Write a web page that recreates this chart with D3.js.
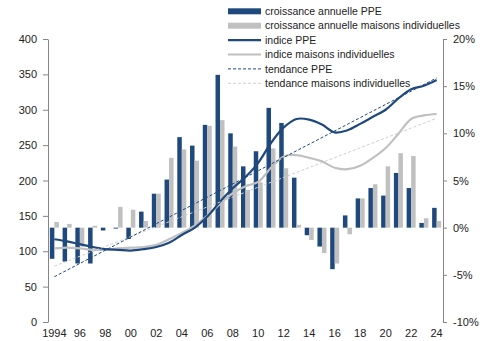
<!DOCTYPE html>
<html>
<head>
<meta charset="utf-8">
<script src="https://cdn.jsdelivr.net/npm/d3@7"></script>
<style>
  body { margin: 0; background: #fff; }
  svg text { font-family: "Liberation Sans", Arial, sans-serif; fill: #222; }
</style>
</head>
<body>
<div id="chart"></div>
<script>

var years = [1994, 1995, 1996, 1997, 1998, 1999, 2000, 2001, 2002, 2003, 2004, 2005, 2006, 2007, 2008,
             2009, 2010, 2011, 2012, 2013, 2014, 2015, 2016, 2017, 2018, 2019, 2020, 2021, 2022, 2023, 2024];

// croissance annuelle, en %
var croissPPE = [-3.3, -3.6, -3.8, -3.8, -0.3, -0.1, -1.2, 1.7, 3.6, 5.1, 9.6, 8.7, 10.9, 16.2, 10.0,
                 6.5, 8.1, 12.7, 11.1, 5.3, -0.8, -2.0, -4.4, 1.3, 3.1, 4.2, 3.4, 5.8, 4.2, 0.5, 2.1];
var croissMaisons = [0.6, 0.4, -2.0, 0.2, 0, 2.2, 1.9, 0.7, 3.6, 7.4, 8.3, 7.1, 10.8, 11.4, 8.6,
                     4.0, 4.8, 8.4, 6.3, 0.3, -1.3, -2.7, -3.8, -0.7, 3.1, 4.6, 6.5, 7.9, 7.6, 1.0, 0.7];

// indices
var indicePPE = [117, 114, 110, 106, 103, 102, 101, 103, 106, 112, 123, 133, 149, 170, 189,
                 205, 225, 253, 275, 287, 286, 279, 268, 271, 280, 290, 300, 316, 329, 334, 342];
var indiceMaisons = [104, 105, 104, 102, 102, 104, 105, 106, 109, 117, 126, 136, 150, 167, 182,
                     192, 198, 218, 234, 236, 232, 227, 218, 216, 221, 232, 246, 266, 287, 292, 294];

// tendances (debut 1994, fin 2024)
var tendancePPE = [64, 345];
var tendanceMaisons = [79, 288];

var yearLabels = ["1994", "96", "98", "00", "02", "04", "06", "08", "10", "12", "14", "16", "18", "20", "22", "24"];
var leftTicks = [0, 50, 100, 150, 200, 250, 300, 350, 400];
var rightTicks = [-10, -5, 0, 5, 10, 15, 20];

var legendLabels = ["croissance annuelle PPE", "croissance annuelle maisons individuelles", "indice PPE",
                    "indice maisons individuelles", "tendance PPE", "tendance maisons individuelles"];

var blue = "#1f497d", grey = "#c0c0c0", lightGrey = "#cfcfcf";

var svg = d3.select("#chart").append("svg")
    .attr("width", 491)
    .attr("height", 341);

var x = d3.scaleBand()
    .domain(years)
    .range([48, 443])
    .padding(0);

var xSub = d3.scaleBand()
    .domain(["ppe", "maisons"])
    .range([0, x.bandwidth()])
    .paddingInner(0)
    .paddingOuter(0.415);

var yL = d3.scaleLinear().domain([0, 400]).range([322, 39]);
var yR = d3.scaleLinear().domain([-10, 20]).range([322, 39]);

function cx(yr) { return x(yr) + x.bandwidth() / 2; }

// barres de croissance
var rows = years.map(function(yr, i) {
    return {year: yr, ppe: croissPPE[i], maisons: croissMaisons[i]};
});

var bars = svg.append("g");
bars.selectAll("g")
    .data(rows)
    .enter().append("g")
    .attr("transform", function(d) { return "translate(" + x(d.year) + ",0)"; })
    .selectAll("rect")
    .data(function(d) { return [{k: "ppe", v: d.ppe}, {k: "maisons", v: d.maisons}]; })
    .enter().append("rect")
    .attr("x", function(d) { return xSub(d.k); })
    .attr("width", xSub.bandwidth())
    .attr("y", function(d) { return Math.min(yR(d.v), yR(0)); })
    .attr("height", function(d) { return Math.abs(yR(d.v) - yR(0)); })
    .attr("fill", function(d) { return d.k == "ppe" ? blue : grey; });

// axes
var axisL = svg.append("g")
    .attr("transform", "translate(48,0)")
    .call(d3.axisLeft(yL).tickValues(leftTicks).tickSize(5).tickPadding(6).tickSizeOuter(0));

var axisR = svg.append("g")
    .attr("transform", "translate(443,0)")
    .call(d3.axisRight(yR).tickValues(rightTicks).tickSize(4).tickPadding(6).tickSizeOuter(0)
        .tickFormat(function(d) { return d + "%"; }));

[axisL, axisR].forEach(function(a) {
    a.select(".domain").attr("stroke", "#868686");
    a.selectAll(".tick line").attr("stroke", "#868686");
    a.selectAll("text").style("font-size", "11px").attr("fill", "#222");
});

// etiquettes des annees (une sur deux)
svg.append("g").selectAll("text")
    .data(yearLabels)
    .enter().append("text")
    .attr("x", function(d, i) { return cx(years[i * 2]); })
    .attr("y", 337)
    .attr("text-anchor", "middle")
    .style("font-size", "11px")
    .text(function(d) { return d; });

// indices
var line = d3.line()
    .x(function(d, i) { return cx(years[i]); })
    .y(function(d) { return yL(d); })
    .curve(d3.curveCatmullRom.alpha(0.5));

svg.append("path")
    .attr("d", line(indiceMaisons))
    .attr("fill", "none")
    .attr("stroke", grey)
    .attr("stroke-width", 2.2);

svg.append("path")
    .attr("d", line(indicePPE))
    .attr("fill", "none")
    .attr("stroke", blue)
    .attr("stroke-width", 2.2);

// tendances
var first = years[0], last = years[years.length - 1];
svg.append("line")
    .attr("x1", cx(first)).attr("y1", yL(tendanceMaisons[0]))
    .attr("x2", cx(last)).attr("y2", yL(tendanceMaisons[1]))
    .attr("stroke", lightGrey)
    .attr("stroke-width", 1)
    .attr("stroke-dasharray", "3,2");

svg.append("line")
    .attr("x1", cx(first)).attr("y1", yL(tendancePPE[0]))
    .attr("x2", cx(last)).attr("y2", yL(tendancePPE[1]))
    .attr("stroke", blue)
    .attr("stroke-width", 1)
    .attr("stroke-dasharray", "3,2");

// legende
var legend = svg.append("g").attr("transform", "translate(228,0)");
var legItems = legend.selectAll("g")
    .data(legendLabels)
    .enter().append("g")
    .attr("transform", function(d, i) { return "translate(0," + (11.3 + i * 14.4) + ")"; });

legItems.each(function(d, i) {
    var g = d3.select(this);
    if (i < 2) {
        g.append("rect")
            .attr("x", 0).attr("y", -3)
            .attr("width", 33).attr("height", 6)
            .attr("fill", i == 0 ? blue : grey);
    } else {
        g.append("line")
            .attr("x1", 0).attr("x2", 33)
            .attr("stroke", (i % 2 == 0) ? blue : (i == 5 ? lightGrey : grey))
            .attr("stroke-width", i < 4 ? 2.2 : 1)
            .attr("stroke-dasharray", i < 4 ? null : "3,2");
    }
    g.append("text")
        .attr("x", 37)
        .attr("dy", "0.35em")
        .style("font-size", "10.5px")
        .text(d);
});

</script>
</body>
</html>
